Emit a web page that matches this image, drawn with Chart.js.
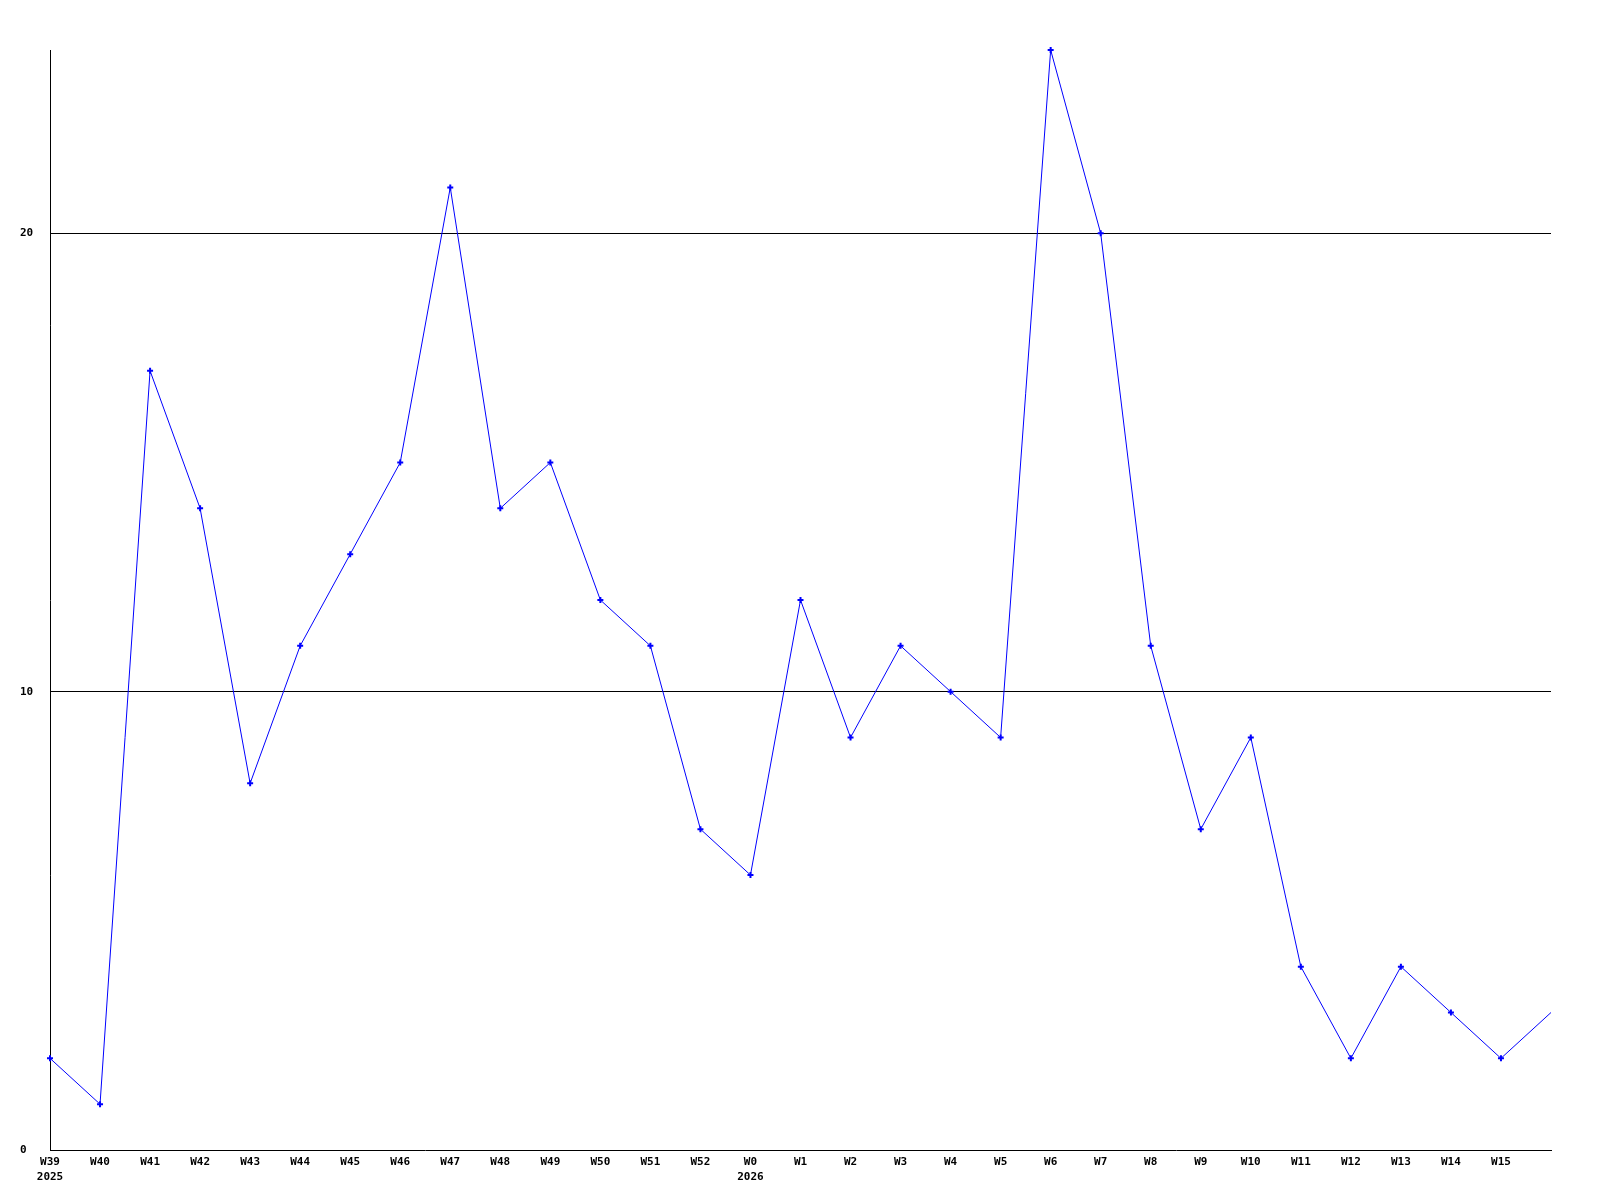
<!DOCTYPE html>
<html>
<head>
<meta charset="utf-8">
<script src="https://cdn.jsdelivr.net/npm/chart.js@4.4.1/dist/chart.umd.min.js"></script>
<style>
  body { margin: 0; background: #fff; }
  canvas { display: block; }
</style>
</head>
<body>
<canvas id="weekChart" width="1600" height="1200"></canvas>
<script>
// weekly counts, W39 2025 .. W16 2026 (last point has no label)
const weeks = ['W39', 'W40', 'W41', 'W42', 'W43', 'W44', 'W45', 'W46', 'W47', 'W48', 'W49', 'W50', 'W51', 'W52',
    'W0', 'W1', 'W2', 'W3', 'W4', 'W5', 'W6', 'W7', 'W8', 'W9', 'W10', 'W11', 'W12', 'W13', 'W14', 'W15', ''];
const yearMarks = { 'W39': '2025', 'W0': '2026' };
const counts = [2, 1, 17, 14, 8, 11, 13, 15, 21, 14, 15, 12, 11, 7, 6, 12, 9, 11, 10, 9, 24, 20, 11, 7, 9, 4, 2, 4, 3, 2, 3];
const yTicks = [0, 10, 20];
const yMax = 24;

const labels = weeks.map(w => yearMarks[w] ? [w, yearMarks[w]] : w);
const tickFont = { family: 'DejaVu Sans Mono', size: 11, weight: 'bold', lineHeight: 1.35 };

const ctx = document.getElementById('weekChart').getContext('2d');
const weekChart = new Chart(ctx, {
    type: 'line',
    data: {
        labels: labels,
        datasets: [{
            data: counts,
            borderColor: '#0000ff',
            backgroundColor: '#0000ff',
            borderWidth: 1,
            pointStyle: 'cross',
            pointRadius: c => c.dataIndex === counts.length - 1 ? 0 : 3,
            pointBorderWidth: 2,
            pointBorderColor: '#0000ff',
            tension: 0,
            fill: false,
            clip: false,
        }]
    },
    options: {
        responsive: false,
        animation: false,
        layout: { padding: { left: 20, top: 50, right: 49, bottom: 0 } },
        plugins: { legend: { display: false }, tooltip: { enabled: false } },
        scales: {
            x: {
                offset: false,
                grid: { display: false, drawTicks: false },
                border: { display: true, color: '#000', width: 1 },
                afterFit: s => { s.height = 50; },
                ticks: {
                    color: '#000',
                    font: tickFont,
                    padding: 5,
                    maxRotation: 0,
                    autoSkip: false,
                }
            },
            y: {
                min: 0,
                max: yMax,
                grid: {
                    drawTicks: false,
                    color: c => (c.tick && yTicks.includes(c.tick.value) && c.tick.value !== 0) ? '#000' : 'rgba(0,0,0,0)',
                    lineWidth: 1,
                },
                border: { display: true, color: '#000', width: 1 },
                afterFit: s => { s.width = 30; },
                afterBuildTicks: s => { s.ticks = yTicks.map(v => ({ value: v })); },
                ticks: {
                    color: '#000',
                    font: tickFont,
                    crossAlign: 'far',
                    includeBounds: false,
                    padding: 0,
                }
            }
        }
    }
});
</script>
</body>
</html>
